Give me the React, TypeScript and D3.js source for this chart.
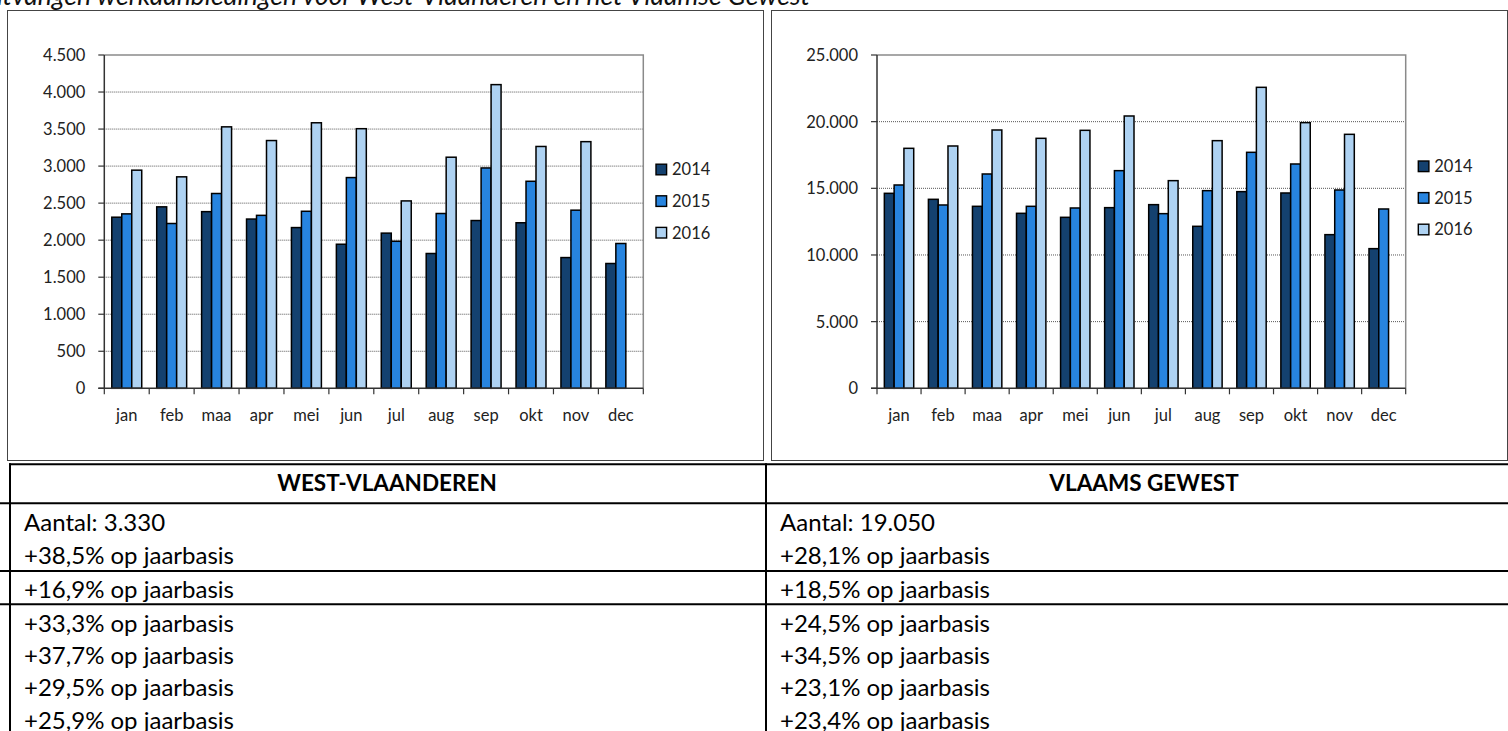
import React from "react";
import * as d3 from "d3";

// months and series
const months = ["jan", "feb", "maa", "apr", "mei", "jun", "jul", "aug", "sep", "okt", "nov", "dec"];
const years = ["2014", "2015", "2016"];

// West-Vlaanderen
const wvl2014 = [2310, 2450, 2385, 2285, 2170, 1945, 2095, 1820, 2265, 2235, 1765, 1685];
const wvl2015 = [2355, 2225, 2630, 2335, 2390, 2845, 1985, 2360, 2975, 2795, 2405, 1955];
const wvl2016 = [2945, 2855, 3530, 3345, 3585, 3505, 2530, 3120, 4100, 3265, 3330, null];
const wvlTicks = [0, 500, 1000, 1500, 2000, 2500, 3000, 3500, 4000, 4500];

// Vlaams Gewest
const vlg2014 = [14625, 14175, 13650, 13125, 12825, 13550, 13775, 12150, 14750, 14650, 11525, 10475];
const vlg2015 = [15250, 13750, 16075, 13650, 13525, 16325, 13100, 14825, 17700, 16825, 14875, 13450];
const vlg2016 = [18000, 18175, 19375, 18750, 19350, 20425, 15575, 18575, 22575, 19925, 19050, null];
const vlgTicks = [0, 5000, 10000, 15000, 20000, 25000];

// table
const regions = ["WEST-VLAANDEREN", "VLAAMS GEWEST"];
const wvlRows = [
  "Aantal: 3.330",
  "+38,5% op jaarbasis",
  "+16,9% op jaarbasis",
  "+33,3% op jaarbasis",
  "+37,7% op jaarbasis",
  "+29,5% op jaarbasis",
  "+25,9% op jaarbasis",
];
const vlgRows = [
  "Aantal: 19.050",
  "+28,1% op jaarbasis",
  "+18,5% op jaarbasis",
  "+24,5% op jaarbasis",
  "+34,5% op jaarbasis",
  "+23,1% op jaarbasis",
  "+23,4% op jaarbasis",
];

const title = "Ontvangen werkaanbiedingen voor West-Vlaanderen en het Vlaamse Gewest";

const colors = ["#14416F", "#2784DF", "#AED2F2"];
const font = "Lato, 'Open Sans', sans-serif";
const nl = d3.formatLocale({ decimal: ",", thousands: ".", grouping: [3], currency: ["", ""] });
const fmt = nl.format(",d");

type ChartProps = {
  series: (number | null)[][];
  ticks: number[];
  left: number;
  right: number;
  legendX: number;
  legendY: number;
};

const top = 55;
const bottom = 388.3;

function Chart({ series, ticks, left, right, legendX, legendY }: ChartProps) {
  const x0 = d3.scaleBand().domain(months).range([left, right]).padding(0);
  const bw = x0.bandwidth();
  const x1 = d3.scaleBand().domain(years).range([bw / 6, (bw * 5) / 6]).padding(0);
  const y = d3
    .scaleLinear()
    .domain([0, ticks[ticks.length - 1]])
    .range([bottom, top]);

  return (
    <g>
      {/* gridlines */}
      {ticks.slice(1, -1).map((t) => (
        <line key={t} x1={left} x2={right} y1={y(t)} y2={y(t)} stroke="#555" strokeDasharray="1 1" strokeWidth={1} />
      ))}
      {/* plot border */}
      <path d={`M${left},${top}H${right}V${bottom}`} fill="none" stroke="#8a8a8a" strokeWidth={1.5} />
      {/* bars */}
      {years.map((yr, si) =>
        months.map((m, i) => {
          const v = series[si][i];
          if (v == null) return null;
          return (
            <rect
              key={yr + m}
              x={(x0(m) as number) + (x1(yr) as number)}
              y={y(v)}
              width={x1.bandwidth()}
              height={bottom - y(v)}
              fill={colors[si]}
              stroke="#000"
              strokeWidth={1.5}
            />
          );
        })
      )}
      {/* axes */}
      <line x1={left} x2={left} y1={top} y2={bottom + 0.5} stroke="#333" strokeWidth={1.5} />
      <line x1={left - 6} x2={right} y1={bottom} y2={bottom} stroke="#333" strokeWidth={1.5} />
      {ticks.map((t) => (
        <g key={"t" + t}>
          <line x1={left - 6} x2={left} y1={y(t)} y2={y(t)} stroke="#333" strokeWidth={1.2} />
          <text x={left - 19} y={y(t)} dy="0.36em" textAnchor="end" fontSize={16.5} fill="#222" fontFamily={font}>
            {fmt(t)}
          </text>
        </g>
      ))}
      {months.map((m, i) => (
        <g key={"m" + m}>
          <line x1={x0(m) as number} x2={x0(m) as number} y1={bottom} y2={bottom + 6} stroke="#333" strokeWidth={1.2} />
          {i === months.length - 1 && (
            <line x1={right} x2={right} y1={bottom} y2={bottom + 6} stroke="#333" strokeWidth={1.2} />
          )}
          <text x={(x0(m) as number) + bw / 2} y={415} dy="0.36em" textAnchor="middle" fontSize={16.5} fill="#222" fontFamily={font}>
            {m}
          </text>
        </g>
      ))}
      {/* legend */}
      {years.map((yr, si) => (
        <g key={"l" + yr} transform={`translate(${legendX},${legendY + si * 31.6})`}>
          <rect x={0} y={-5.3} width={10.6} height={10.6} fill={colors[si]} stroke="#000" strokeWidth={1.4} />
          <text x={16} y={0} dy="0.36em" fontSize={16.5} fill="#222" fontFamily={font}>
            {yr}
          </text>
        </g>
      ))}
    </g>
  );
}

const rowCenters = [522.5, 555.7, 589, 623, 655.7, 687.7, 720.5];

export default function App() {
  return (
    <svg
      width={1508}
      height={731}
      style={{ position: "absolute", left: 0, top: 0, background: "#fff" }}
      fontFamily={font}
    >
      <rect width={1508} height={731} fill="#fff" />
      <text x={810} y={5} textAnchor="end" fontSize={26.5} fontStyle="italic" fill="#111">
        {title}
      </text>

      {/* chart frames */}
      <rect x={7.5} y={10.5} width={756} height={450} fill="none" stroke="#444" strokeWidth={1} />
      <rect x={771.5} y={10.5} width={736} height={450} fill="none" stroke="#444" strokeWidth={1} />

      <Chart series={[wvl2014, wvl2015, wvl2016]} ticks={wvlTicks} left={104.3} right={643.3} legendX={656} legendY={169.5} />
      <Chart series={[vlg2014, vlg2015, vlg2016]} ticks={vlgTicks} left={877} right={1405.7} legendX={1418.3} legendY={166.3} />

      {/* table */}
      <g stroke="#000" strokeWidth={2}>
        <line x1={9} x2={1508} y1={464.3} y2={464.3} />
        <line x1={0} x2={1508} y1={503.3} y2={503.3} />
        <line x1={0} x2={1508} y1={571} y2={571} />
        <line x1={0} x2={1508} y1={604.3} y2={604.3} />
        <line x1={10} x2={10} y1={463.3} y2={731} />
        <line x1={766} x2={766} y1={463.3} y2={731} />
      </g>
      <text x={387} y={483.3} dy="0.36em" textAnchor="middle" fontSize={22.5} fontWeight="bold" fill="#000">
        {regions[0]}
      </text>
      <text x={1144} y={483.3} dy="0.36em" textAnchor="middle" fontSize={22.5} fontWeight="bold" fill="#000">
        {regions[1]}
      </text>
      {wvlRows.map((r, i) => (
        <text key={"w" + i} x={24} y={rowCenters[i]} dy="0.36em" fontSize={24} fill="#000">
          {r}
        </text>
      ))}
      {vlgRows.map((r, i) => (
        <text key={"v" + i} x={780} y={rowCenters[i]} dy="0.36em" fontSize={24} fill="#000">
          {r}
        </text>
      ))}
    </svg>
  );
}
